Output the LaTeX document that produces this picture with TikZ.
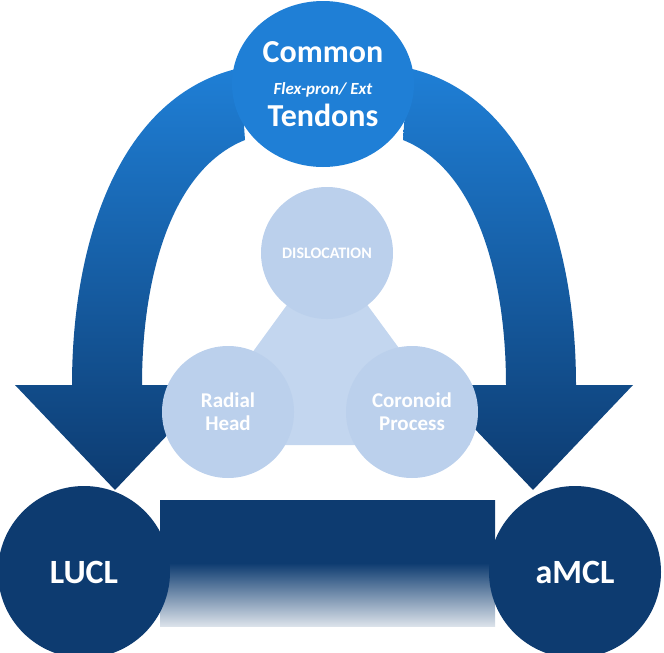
\documentclass[tikz,border=0pt]{standalone}
\usepackage{fontspec}
\usetikzlibrary{shapes.geometric}
\setmainfont{Carlito}
\begin{document}
\begin{tikzpicture}[x=1pt,y=-1pt,
 light/.style={circle,fill=lightblue,draw=none,minimum size=132pt,inner sep=0pt,text=white,font=\bfseries\fontsize{21}{23}\selectfont,align=center},
 big/.style={circle,fill=darkblue,minimum size=172pt,inner sep=0pt,text=white,font=\bfseries\fontsize{34}{36}\selectfont}]
\definecolor{darkblue}{HTML}{0D3B70}
\definecolor{midblue}{HTML}{1F7FD6}
\definecolor{lightblue}{HTML}{BBD0EC}
\definecolor{tribl}{HTML}{C3D6EF}
\useasboundingbox (0,0) rectangle (664,653);
% bar
\shade[top color=darkblue,bottom color=darkblue!15,middle color=darkblue] (160,500) rectangle (495,626);
% arrows
\shade[top color=midblue,bottom color=darkblue]
 (240,68) .. controls (120,95) and (72,240) .. (72,385) -- (15,385) -- (115,490) -- (215,385) -- (142,385)
 .. controls (142,280) and (170,170) .. (245,140) -- cycle;
\shade[top color=midblue,bottom color=darkblue]
 (408,68) .. controls (528,95) and (576,240) .. (576,385) -- (633,385) -- (533,490) -- (433,385) -- (506,385)
 .. controls (506,280) and (478,170) .. (403,140) -- cycle;
% center
\fill[tribl] (327,250) -- (185,445) -- (470,445) -- cycle;
\node[light] (d) at (327,253) {\fontsize{16}{18}\selectfont DISLOCATION};
\node[light] (r) at (228,412) {Radial\\Head};
\node[light] (c) at (412,412) {Coronoid\\Process};
% top
\node[ellipse,fill=midblue,minimum width=182pt,minimum height=166pt,inner sep=0pt,text=white,align=center,
 font=\bfseries\fontsize{32}{32}\selectfont] (t) at (323,84)
 {Common\\{\itshape\fontsize{17}{19}\selectfont Flex-pron/ Ext}\\Tendons};
\node[big] (l) at (84,572) {LUCL};
\node[big] (m) at (575,572) {aMCL};
\end{tikzpicture}
\end{document}
